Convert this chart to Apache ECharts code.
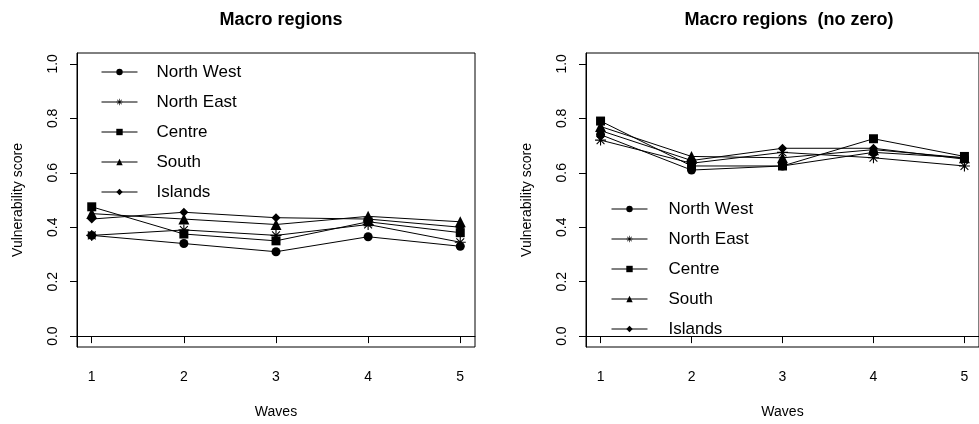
<!DOCTYPE html>
<html><head><meta charset="utf-8">
<script src="https://cdn.jsdelivr.net/npm/echarts@6/dist/echarts.min.js"></script>
<style>html,body{margin:0;padding:0;background:#fff}#c{width:979px;height:424px}</style>
</head><body><div id="c"></div>
<script>
// Data
const waves = [1, 2, 3, 4, 5];
const regions = ['North West', 'North East', 'Centre', 'South', 'Islands'];
const yTicks = [0, 0.2, 0.4, 0.6, 0.8, 1.0];
// Left panel: Macro regions
const nwLeft = [0.37, 0.34, 0.31, 0.365, 0.33];
const neLeft = [0.37, 0.39, 0.37, 0.41, 0.345];
const centreLeft = [0.475, 0.375, 0.35, 0.42, 0.38];
const southLeft = [0.45, 0.43, 0.41, 0.44, 0.42];
const islandsLeft = [0.43, 0.455, 0.435, 0.43, 0.40];
// Right panel: Macro regions (no zero)
const nwRight = [0.74, 0.61, 0.625, 0.675, 0.655];
const neRight = [0.72, 0.635, 0.675, 0.655, 0.625];
const centreRight = [0.79, 0.625, 0.625, 0.725, 0.66];
const southRight = [0.77, 0.66, 0.655, 0.685, 0.655];
const islandsRight = [0.755, 0.645, 0.69, 0.69, 0.65];

const FONT = '"Liberation Sans", Arial, Helvetica, sans-serif';
const asterisk = 'path://M9,0L11,0L11,20L9,20Z M0,9L20,9L20,11L0,11Z M2.2,3.6L3.6,2.2L17.8,16.4L16.4,17.8Z M16.4,2.2L17.8,3.6L3.6,17.8L2.2,16.4Z';
const symbols = ['circle', asterisk, 'rect', 'triangle', 'diamond'];
const sizes = [9, 11, 9, 11, 9];

const leftSets = [nwLeft, neLeft, centreLeft, southLeft, islandsLeft];
const rightSets = [nwRight, neRight, centreRight, southRight, islandsRight];

function mkSeries(sets, idx) {
  return sets.map((vals, i) => ({
    name: regions[i], type: 'line', xAxisIndex: idx, yAxisIndex: idx,
    data: waves.map((w, j) => [w, vals[j]]),
    symbol: symbols[i], symbolSize: sizes[i], showAllSymbol: true,
    lineStyle: { color: '#000', width: 1 }, itemStyle: { color: '#000', borderWidth: 0 },
    emphasis: { disabled: true }, animation: false, z: 2 + i
  }));
}
function xAx(idx) {
  return {
    gridIndex: idx, type: 'value', min: 0.84, max: 5.16,
    axisLine: { show: true, lineStyle: { color: '#000', width: 1 } },
    axisTick: { show: true, length: 7, lineStyle: { color: '#000', width: 1 }, customValues: waves },
    axisLabel: { customValues: waves, color: '#000', fontSize: 14, fontFamily: FONT, margin: 23 },
    splitLine: { show: false },
    name: 'Waves', nameLocation: 'middle', nameGap: 58,
    nameTextStyle: { color: '#000', fontSize: 14, fontFamily: FONT }
  };
}
function yAx(idx) {
  return {
    gridIndex: idx, type: 'value', min: -0.04, max: 1.04,
    axisLine: { show: true, lineStyle: { color: '#000', width: 1 } },
    axisTick: { show: true, length: 7, lineStyle: { color: '#000', width: 1 }, customValues: yTicks },
    axisLabel: { customValues: yTicks, rotate: 90, color: '#000', fontSize: 14, fontFamily: FONT, margin: 17,
      formatter: v => Number(v).toFixed(1) },
    splitLine: { show: false },
    name: 'Vulnerability score', nameLocation: 'middle', nameGap: 52, nameRotate: 90,
    nameTextStyle: { color: '#000', fontSize: 14, fontFamily: FONT }
  };
}
function legend(left, top, pad) {
  return {
    data: regions, left: left, top: top, orient: 'vertical', selectedMode: false,
    itemWidth: 36, itemHeight: 8, itemGap: 10,
    lineStyle: { width: 1, color: '#000' },
    textStyle: { color: '#000', fontSize: 17, fontFamily: FONT, lineHeight: 20, padding: [0, 0, 0, pad] }
  };
}
const chart = echarts.init(document.getElementById('c'), null, { renderer: 'canvas' });
chart.setOption({
  backgroundColor: '#fff',
  animation: false,
  title: [
    { text: 'Macro regions', left: 276, textAlign: 'center', top: 6,
      textStyle: { color: '#000', fontSize: 18, fontWeight: 'bold', fontFamily: FONT } },
    { text: 'Macro regions  (no zero)', left: 784, textAlign: 'center', top: 6,
      textStyle: { color: '#000', fontSize: 18, fontWeight: 'bold', fontFamily: FONT } }
  ],
  legend: [legend(96, 57, 14), legend(606, 194, 16)],
  grid: [
    { left: 77, top: 53, width: 398, height: 300, show: true, borderColor: '#000', borderWidth: 1, containLabel: false },
    { left: 586, top: 53, width: 397, height: 300, show: true, borderColor: '#000', borderWidth: 1, containLabel: false }
  ],
  xAxis: [xAx(0), xAx(1)],
  yAxis: [yAx(0), yAx(1)],
  series: [...mkSeries(leftSets, 0), ...mkSeries(rightSets, 1)]
});
</script></body></html>
